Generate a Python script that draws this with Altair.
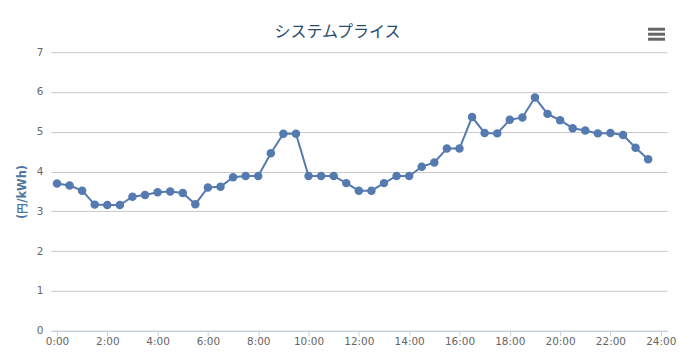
import altair as alt
import pandas as pd

title_text = "システムプライス"
y_title = "(円/kWh)"

times = [
    "0:00", "0:30", "1:00", "1:30", "2:00", "2:30", "3:00", "3:30",
    "4:00", "4:30", "5:00", "5:30", "6:00", "6:30", "7:00", "7:30",
    "8:00", "8:30", "9:00", "9:30", "10:00", "10:30", "11:00", "11:30",
    "12:00", "12:30", "13:00", "13:30", "14:00", "14:30", "15:00", "15:30",
    "16:00", "16:30", "17:00", "17:30", "18:00", "18:30", "19:00", "19:30",
    "20:00", "20:30", "21:00", "21:30", "22:00", "22:30", "23:00", "23:30",
]
prices = [
    3.70, 3.65, 3.52, 3.17, 3.16, 3.16, 3.37, 3.41,
    3.48, 3.50, 3.46, 3.18, 3.60, 3.62, 3.86, 3.89,
    3.89, 4.46, 4.95, 4.95, 3.89, 3.89, 3.89, 3.71,
    3.52, 3.52, 3.71, 3.89, 3.89, 4.12, 4.23, 4.58,
    4.58, 5.37, 4.97, 4.96, 5.30, 5.36, 5.86, 5.45,
    5.29, 5.09, 5.03, 4.96, 4.97, 4.92, 4.60, 4.31,
]
x_tick_hours = [h / 2 for h in range(0, 49)]
y_ticks = [0, 1, 2, 3, 4, 5, 6, 7]


def to_hours(t):
    h, m = t.split(":")
    return int(h) + int(m) / 60


df = pd.DataFrame({"time": times, "price": prices})
df["hour"] = df["time"].map(to_hours)

LINE_COLOR = "#547AB0"
LABEL_FONT = "DejaVu Sans"

x_enc = alt.X(
    "hour:Q",
    scale=alt.Scale(domain=[-0.24, 24.25], nice=False, zero=False),
    axis=alt.Axis(
        values=x_tick_hours,
        labelExpr="datum.value % 2 == 0 ? floor(datum.value) + ':00' : ''",
        grid=False,
        domainColor="#C0D0E0",
        tickColor="#C0D0E0",
        tickSize=5,
        labelColor="#666666",
        labelFont=LABEL_FONT,
        labelFontSize=10.5,
        labelPadding=1,
        labelOverlap=False,
        labelFlush=False,
        title=None,
    ),
)
y_enc = alt.Y(
    "price:Q",
    scale=alt.Scale(domain=[0, 7], nice=False),
    axis=alt.Axis(
        values=y_ticks,
        tickCount=8,
        grid=True,
        gridColor="#C8C8C8",
        domain=False,
        ticks=False,
        labelPadding=8,
        labelColor="#666666",
        labelFont=LABEL_FONT,
        labelFontSize=10.5,
        labelOverlap=False,
        labelFlush=False,
        title=y_title,
        titleColor="#4D759E",
        titleFont=LABEL_FONT,
        titleFontSize=11.5,
        titleFontWeight="bold",
        titleAngle=270,
        titleX=-28,
        titleY=139.5,
        titleAlign="center",
        titleBaseline="middle",
    ),
)

base = alt.Chart(df)
line = base.mark_line(color=LINE_COLOR, strokeWidth=2).encode(x=x_enc, y=y_enc)
points = base.mark_point(
    filled=True, size=72, color=LINE_COLOR, opacity=1
).encode(x="hour:Q", y="price:Q")

title = alt.Chart(pd.DataFrame({"t": [title_text]})).mark_text(
    font="Noto Sans CJK JP", fontSize=16, color="#274B6D",
    align="center", baseline="middle",
).encode(x=alt.value(287), y=alt.value(-20), text="t:N")

menu_bars = [
    alt.Chart(pd.DataFrame({"k": [0]})).mark_rule(
        color="#666666", strokeWidth=3
    ).encode(x=alt.value(598), x2=alt.value(615), y=alt.value(yy))
    for yy in (-23, -18, -13)
]

chart = alt.layer(line, points, title, *menu_bars).properties(
    width=617,
    height=279,
    autosize=alt.AutoSizeParams(type="none"),
    padding={"left": 43, "top": 44, "right": 14, "bottom": 20},
).configure_view(stroke=None)

chart.save("out.html", embed_options={"renderer": "svg", "actions": False})
